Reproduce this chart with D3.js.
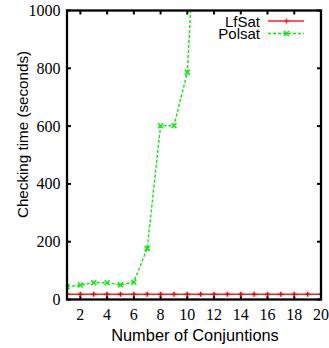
<!DOCTYPE html>
<html><head><meta charset="utf-8">
<script src="https://cdn.jsdelivr.net/npm/d3@7"></script>
<style>body{margin:0;background:#fff}svg{display:block}
.serif{font-family:"Liberation Serif","Times New Roman",serif}
.sans{font-family:"Liberation Sans",Arial,Helvetica,sans-serif}
</style>
</head><body>
<script>
const conjunctions = [1,2,3,4,5,6,7,8,9,10,11,12,13,14,15,16,17,18,19,20];
const lfsat = [18,18,18,18,18,18,18,18,18,18,18,18,18,18,18,18,18,18,18,18];
const polsatX = [1,2,3,4,5,6,7,8,9,10,11];
const polsat = [44,50,58,58,51,60,177,601,601,786,1650];
const xTicks = [2,4,6,8,10,12,14,16,18,20];
const yTicks = [0,200,400,600,800,1000];
const seriesNames = ["LfSat","Polsat"];

const W=329,H=348;
const svg=d3.select("body").append("svg").attr("width",W).attr("height",H);
const L=67,R=321,T=10.5,B=299.5;
const x=d3.scaleLinear().domain([1,20]).range([L,R]);
const y=d3.scaleLinear().domain([0,1000]).range([B,T]);

svg.append("defs").append("clipPath").attr("id","clip")
  .append("rect").attr("x",L).attr("y",T).attr("width",R-L).attr("height",B-T);

// ticks (inward, mirrored)
const tl=4;
const tg=svg.append("g").attr("stroke","#000").attr("stroke-width",2);
xTicks.forEach(v=>{
  tg.append("line").attr("x1",x(v)).attr("x2",x(v)).attr("y1",B).attr("y2",B-tl);
  tg.append("line").attr("x1",x(v)).attr("x2",x(v)).attr("y1",T).attr("y2",T+tl);
});
yTicks.forEach(v=>{
  tg.append("line").attr("x1",L).attr("x2",L+tl).attr("y1",y(v)).attr("y2",y(v));
  tg.append("line").attr("x1",R).attr("x2",R-tl).attr("y1",y(v)).attr("y2",y(v));
});

// tick labels
svg.append("g").selectAll("text").data(xTicks).join("text").attr("class","serif")
  .attr("x",d=>x(d)).attr("y",319.5).attr("text-anchor","middle")
  .attr("font-size",16).text(d=>d);
svg.append("g").selectAll("text").data(yTicks).join("text").attr("class","serif")
  .attr("x",60.5).attr("y",d=>y(d)+5.5).attr("text-anchor","end")
  .attr("font-size",16).text(d=>d);

// axis titles
svg.append("text").attr("class","sans").attr("x",195).attr("y",341).attr("text-anchor","middle")
  .attr("font-size",16.4).text("Number of Conjuntions");
svg.append("text").attr("class","sans").attr("transform","translate(27.5,134.5) rotate(-90)")
  .attr("text-anchor","middle").attr("font-size",15.2)
  .text("Checking time (seconds)");

const plot=svg.append("g").attr("clip-path","url(#clip)");
const line=d3.line().x(d=>x(d[0])).y(d=>y(d[1]));

const plus=(g,cx,cy,s,col)=>{
  g.append("line").attr("x1",cx-s).attr("x2",cx+s).attr("y1",cy).attr("y2",cy).attr("stroke",col).attr("stroke-width",1.5);
  g.append("line").attr("x1",cx).attr("x2",cx).attr("y1",cy-s).attr("y2",cy+s).attr("stroke",col).attr("stroke-width",1.5);
};
const cross=(g,cx,cy,s,col)=>{
  g.append("line").attr("x1",cx-s).attr("x2",cx+s).attr("y1",cy-s).attr("y2",cy+s).attr("stroke",col).attr("stroke-width",1.5);
  g.append("line").attr("x1",cx-s).attr("x2",cx+s).attr("y1",cy+s).attr("y2",cy-s).attr("stroke",col).attr("stroke-width",1.5);
};

// Polsat
const pData=polsatX.map((c,i)=>[c,polsat[i]]);
plot.append("path").datum(pData).attr("d",line).attr("fill","none")
  .attr("stroke","#00ee00").attr("stroke-width",1.4).attr("stroke-dasharray","3,2");
pData.forEach(d=>cross(plot,x(d[0]),y(d[1]),2.5,"#00ee00"));

// LfSat
const lfData=conjunctions.map((c,i)=>[c,lfsat[i]]);
plot.append("path").datum(lfData).attr("d",line).attr("fill","none")
  .attr("stroke","#ff2020").attr("stroke-width",1.5);
lfData.forEach(d=>plus(plot,x(d[0]),y(d[1]),2.5,"#ff0000"));

// legend
const lg=svg.append("g");
const leg=[{n:seriesNames[0],c:"#ff2020",dash:null,m:plus,y:21},{n:seriesNames[1],c:"#00ee00",dash:"3,2",m:cross,y:33.5}];
leg.forEach(e=>{
  lg.append("text").attr("class","sans").attr("x",260).attr("y",e.y+5.5).attr("text-anchor","end")
    .attr("font-size",15).text(e.n);
  lg.append("line").attr("x1",268).attr("x2",304).attr("y1",e.y).attr("y2",e.y)
    .attr("stroke",e.c).attr("stroke-width",1.5).attr("stroke-dasharray",e.dash);
  e.m(lg,286.5,e.y,2.5,e.c);
});

// frame
svg.append("rect").attr("x",L).attr("y",T).attr("width",R-L).attr("height",B-T)
  .attr("fill","none").attr("stroke","#000").attr("stroke-width",2.3);
</script>
</body></html>
